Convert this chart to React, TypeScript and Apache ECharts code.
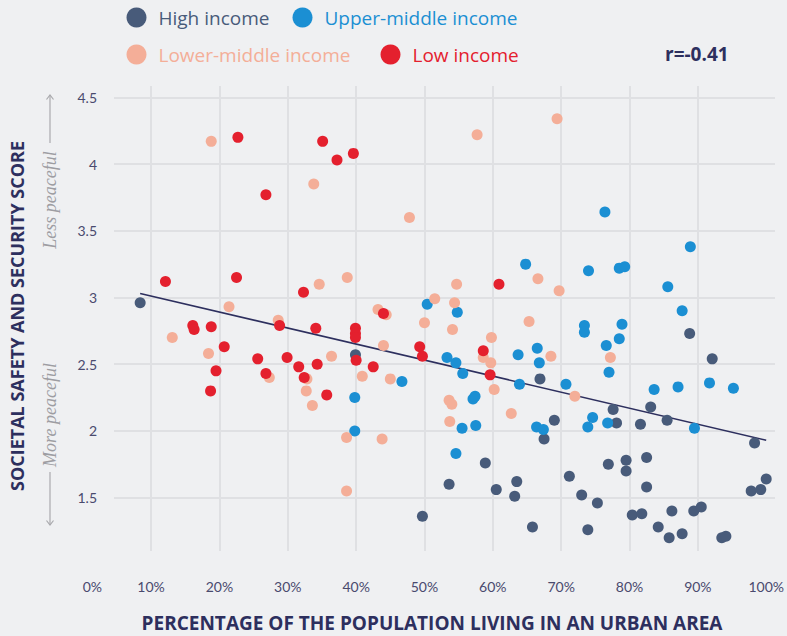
import React, { useEffect, useRef } from "react";
import * as echarts from "echarts";

// ---------- DATA ----------
const seriesNames = ["High income", "Upper-middle income", "Lower-middle income", "Low income"];

// [urban population %, societal safety & security score]
const highIncome: number[][] = [
  [8.4, 2.96], [39.9, 2.57], [66.9, 2.39], [88.8, 2.73], [92.1, 2.54], [77.6, 2.16], [83.1, 2.18],
  [85.5, 2.08], [81.6, 2.05], [78.1, 2.06], [69.0, 2.08], [67.5, 1.94], [98.3, 1.91], [58.9, 1.76],
  [53.6, 1.6], [60.5, 1.56], [63.5, 1.62], [63.2, 1.51], [49.7, 1.36], [65.8, 1.28], [76.9, 1.75],
  [79.5, 1.78], [79.5, 1.7], [82.5, 1.8], [71.2, 1.66], [82.5, 1.58], [73.0, 1.52], [75.3, 1.46],
  [80.4, 1.37], [81.8, 1.38], [86.2, 1.4], [89.4, 1.4], [90.5, 1.43], [84.2, 1.28], [85.8, 1.2],
  [87.7, 1.23], [93.5, 1.2], [94.1, 1.21], [73.9, 1.26], [97.8, 1.55], [99.2, 1.56], [100.0, 1.64],
];

const upperMiddleIncome: number[][] = [
  [64.8, 3.25], [76.4, 3.64], [88.9, 3.38], [74.0, 3.2], [78.5, 3.22], [79.3, 3.23], [85.6, 3.08],
  [87.7, 2.9], [73.4, 2.79], [73.4, 2.74], [78.9, 2.8], [78.5, 2.69], [76.6, 2.64], [77.0, 2.44],
  [66.5, 2.62], [66.8, 2.51], [70.7, 2.35], [63.9, 2.35], [63.7, 2.57], [83.6, 2.31], [87.1, 2.33],
  [91.7, 2.36], [95.2, 2.32], [76.8, 2.06], [74.6, 2.1], [73.9, 2.03], [89.5, 2.02], [66.4, 2.03],
  [67.4, 2.01], [50.4, 2.95], [54.8, 2.89], [46.7, 2.37], [39.8, 2.25], [39.8, 2.0], [53.3, 2.55],
  [54.6, 2.51], [55.6, 2.43], [57.1, 2.24], [57.4, 2.26], [55.5, 2.02], [57.5, 2.04], [54.6, 1.83],
];

const lowerMiddleIncome: number[][] = [
  [18.8, 4.17], [33.8, 3.85], [57.7, 4.22], [69.4, 4.34], [47.8, 3.6], [21.4, 2.93], [34.6, 3.1],
  [38.7, 3.15], [54.7, 3.1], [51.5, 2.99], [54.4, 2.96], [43.2, 2.91], [44.4, 2.87], [50.0, 2.81],
  [65.3, 2.82], [66.6, 3.14], [69.7, 3.05], [13.1, 2.7], [28.6, 2.83], [18.4, 2.58], [27.3, 2.4],
  [32.8, 2.39], [32.7, 2.3], [33.6, 2.19], [44.0, 2.64], [54.1, 2.76], [59.8, 2.7], [36.4, 2.56],
  [40.9, 2.41], [45.0, 2.39], [58.6, 2.55], [59.7, 2.51], [60.2, 2.31], [53.6, 2.23], [54.0, 2.2],
  [62.7, 2.13], [53.7, 2.07], [38.6, 1.95], [43.8, 1.94], [38.6, 1.55], [68.5, 2.56], [77.2, 2.55],
  [72.0, 2.26],
];

const lowIncome: number[][] = [
  [22.7, 4.2], [26.8, 3.77], [35.1, 4.17], [37.2, 4.03], [39.6, 4.08], [12.1, 3.12], [22.5, 3.15],
  [32.3, 3.04], [60.9, 3.1], [44.0, 2.88], [16.1, 2.79], [16.3, 2.76], [18.8, 2.78], [28.8, 2.79],
  [34.1, 2.77], [20.7, 2.63], [25.6, 2.54], [29.9, 2.55], [31.6, 2.48], [34.3, 2.5], [19.5, 2.45],
  [26.8, 2.43], [32.4, 2.4], [18.7, 2.3], [39.9, 2.77], [39.9, 2.73], [39.9, 2.7], [49.3, 2.63],
  [49.7, 2.56], [40.0, 2.53], [42.5, 2.48], [35.7, 2.27], [58.6, 2.6], [59.6, 2.42],
];

// regression line end points
const trendLine: number[][] = [[8.4, 3.03], [100, 1.93]];
const correlationLabel = "r=-0.41";

const xAxisTitle = "PERCENTAGE OF THE POPULATION LIVING IN AN URBAN AREA";
const yAxisTitle = "SOCIETAL SAFETY AND SECURITY SCORE";
const upperNote = "Less peaceful";
const lowerNote = "More peaceful";

// ---------- STYLE ----------
const COLORS = ["#485b7a", "#1b8fd3", "#f4ae98", "#e4202e"];
const NAVY = "#2d2f5e";
const GRID = "#dfe0e3";
const TICK = "#4a4a6e";
const NOTE = "#9d9da2";

export default function App() {
  const ref = useRef<HTMLDivElement>(null);

  useEffect(() => {
    if (!ref.current) return;
    const chart = echarts.init(ref.current, undefined, { renderer: "svg" });

    const dataSets = [highIncome, upperMiddleIncome, lowerMiddleIncome, lowIncome];
    const legendPos = [
      { left: 126.5, top: 7.5 },
      { left: 292.5, top: 7.5 },
      { left: 126.5, top: 44.5 },
      { left: 380.5, top: 44.5 },
    ];

    const option: any = {
      animation: false,
      backgroundColor: "#eff0f2",
      textStyle: { fontFamily: "Lato" },
      legend: seriesNames.map((n, i) => ({
        data: [{ name: n, textStyle: { color: COLORS[i] } }],
        left: legendPos[i].left,
        top: legendPos[i].top,
        padding: 0,
        icon: "circle",
        itemWidth: 20,
        itemHeight: 20,
        selectedMode: false,
        textStyle: {
          fontFamily: "Open Sans",
          fontSize: 19,
          fontWeight: 500,
          padding: [0, 0, 0, 7],
        },
      })),
      grid: [
        { left: 82.75, right: 11.75, top: 86, bottom: 85 },
        { left: 114, right: 12, top: 97.3, bottom: 138.3 },
      ],
      xAxis: [
        {
          type: "value",
          gridIndex: 0,
          min: 0,
          max: 100,
          interval: 10,
          axisLine: { show: false },
          axisTick: { show: false },
          axisLabel: {
            formatter: "{value}%",
            margin: 28,
            color: TICK,
            fontSize: 14,
            fontFamily: "Lato",
            alignMinLabel: "left",
          },
          splitLine: {
            show: true,
            showMinLine: false,
            showMaxLine: false,
            lineStyle: { color: GRID, width: 2 },
          },
        },
        { type: "value", gridIndex: 1, min: 0, max: 1, show: false },
      ],
      yAxis: [
        { type: "value", gridIndex: 0, min: 1.1, max: 4.585, show: false },
        {
          type: "value",
          gridIndex: 1,
          min: 1.5,
          max: 4.5,
          interval: 0.5,
          axisLine: { show: false },
          axisTick: { show: false },
          axisLabel: { margin: 17, color: TICK, fontSize: 14, fontFamily: "Lato" },
          splitLine: { show: true, lineStyle: { color: GRID, width: 2 } },
        },
      ],
      series: [
        {
          type: "line",
          name: "trend",
          xAxisIndex: 0,
          yAxisIndex: 0,
          data: trendLine,
          symbol: "none",
          lineStyle: { color: NAVY, width: 1.6 },
          z: 1,
          silent: true,
        },
        ...seriesNames.map((n, i) => ({
          type: "scatter",
          name: n,
          xAxisIndex: 0,
          yAxisIndex: 0,
          data: dataSets[i],
          symbol: "circle",
          symbolSize: 11,
          itemStyle: { color: COLORS[i], opacity: 1 },
          z: 2 + i,
        })),
      ],
      graphic: [
        {
          type: "text",
          x: 17,
          y: 316,
          rotation: Math.PI / 2,
          style: {
            text: yAxisTitle,
            fill: NAVY,
            font: 'bold 18px "Open Sans"',
            align: "center",
            verticalAlign: "middle",
            textAlign: "center",
            textVerticalAlign: "middle",
          },
        },
        {
          type: "text",
          x: 432,
          y: 623,
          style: {
            text: xAxisTitle,
            fill: NAVY,
            font: 'bold 19px "Open Sans"',
            align: "center",
            verticalAlign: "middle",
            textAlign: "center",
            textVerticalAlign: "middle",
          },
        },
        {
          type: "text",
          x: 665,
          y: 54,
          style: {
            text: correlationLabel,
            fill: NAVY,
            font: 'bold 19px "Open Sans"',
            align: "left",
            verticalAlign: "middle",
            textAlign: "left",
            textVerticalAlign: "middle",
          },
        },
        {
          type: "text",
          x: 50,
          y: 200,
          rotation: Math.PI / 2,
          style: {
            text: upperNote,
            fill: NOTE,
            font: 'italic 18px "Liberation Serif"',
            align: "center",
            verticalAlign: "middle",
            textAlign: "center",
            textVerticalAlign: "middle",
          },
        },
        {
          type: "text",
          x: 50,
          y: 415,
          rotation: Math.PI / 2,
          style: {
            text: lowerNote,
            fill: NOTE,
            font: 'italic 18px "Liberation Serif"',
            align: "center",
            verticalAlign: "middle",
            textAlign: "center",
            textVerticalAlign: "middle",
          },
        },
        { type: "line", shape: { x1: 50, y1: 95, x2: 50, y2: 143 }, style: { stroke: "#a9a9ad", lineWidth: 1.2 } },
        { type: "polyline", shape: { points: [[46.5, 99.5], [50, 95], [53.5, 99.5]] }, style: { stroke: "#a9a9ad", lineWidth: 1.2, fill: "none" } },
        { type: "line", shape: { x1: 50, y1: 472, x2: 50, y2: 525 }, style: { stroke: "#a9a9ad", lineWidth: 1.2 } },
        { type: "polyline", shape: { points: [[46.5, 520.5], [50, 525], [53.5, 520.5]] }, style: { stroke: "#a9a9ad", lineWidth: 1.2, fill: "none" } },
      ],
    };

    chart.setOption(option);
    return () => chart.dispose();
  }, []);

  return (
    <div
      ref={ref}
      style={{ position: "fixed", left: 0, top: 0, width: 787, height: 636, background: "#eff0f2" }}
    />
  );
}
